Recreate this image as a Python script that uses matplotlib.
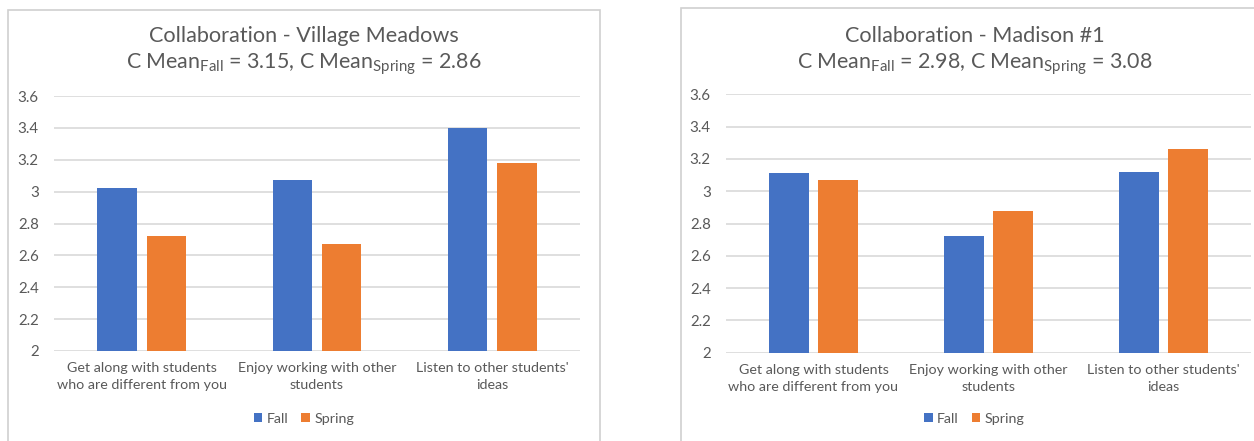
import numpy as np
import matplotlib
matplotlib.use("Agg")
import matplotlib.pyplot as plt
from matplotlib.patches import Rectangle

plt.rcParams['font.family'] = ['Lato', 'DejaVu Sans']
plt.rcParams['mathtext.fontset'] = 'custom'
plt.rcParams['mathtext.rm'] = 'Lato'

categories = ["Get along with students\nwho are different from you",
              "Enjoy working with other\nstudents",
              "Listen to other students'\nideas"]
series = ["Fall", "Spring"]

vm_fall = [3.02, 3.07, 3.40]
vm_spring = [2.72, 2.67, 3.18]
vm_means = [3.15, 2.86]

mad_fall = [3.11, 2.72, 3.12]
mad_spring = [3.07, 2.88, 3.26]
mad_means = [2.98, 3.08]

yticks = [2, 2.2, 2.4, 2.6, 2.8, 3, 3.2, 3.4, 3.6]

BLUE = '#4472C4'
ORANGE = '#ED7D31'
GRAY = '#595959'
GRID = '#D9D9D9'

W, H = 1254, 441


def fx(px):
    return px / W


def fy(py):
    # py measured from the top of the picture
    return 1 - py / H


def panel(fig, rect, box, name, fall, spring, means):
    ax = fig.add_axes(rect)
    x = np.arange(len(categories))
    ax.bar(x - 0.141, fall, 0.225, color=BLUE, label=series[0], zorder=3)
    ax.bar(x + 0.141, spring, 0.225, color=ORANGE, label=series[1], zorder=3)
    ax.set_xlim(-0.5, len(categories) - 0.5)
    ax.set_ylim(2, 3.6)
    ax.set_yticks(yticks)
    ax.set_yticklabels([('%g' % t) for t in yticks])
    ax.set_xticks(x)
    ax.set_xticklabels(categories, linespacing=1.5)
    ax.tick_params(length=0, colors=GRAY)
    ax.tick_params(axis='y', pad=11, labelsize=10.8)
    ax.tick_params(axis='x', pad=8, labelsize=10.3)
    for s in ax.spines.values():
        s.set_visible(False)
    ax.yaxis.grid(True, color=GRID, linewidth=1.2, zorder=0)
    ax.set_axisbelow(True)

    # panel frame
    x0, y0, x1, y1 = box
    fig.patches.append(Rectangle((fx(x0), fy(y1)), fx(x1 - x0), (y1 - y0) / H,
                                 transform=fig.transFigure, fill=False,
                                 edgecolor='#D0D0D0', linewidth=1.2))
    cx = fx((x0 + x1) / 2)
    fig.text(cx, fy(36), "Collaboration - " + name, ha='center', va='center',
             fontsize=15.6, color=GRAY)
    fig.text(cx, fy(64),
             r"C Mean$_\mathregular{Fall}$ = %.2f, C Mean$_\mathregular{Spring}$ = %.2f" % (means[0], means[1]),
             ha='center', va='center', fontsize=15.4, color=GRAY)
    fig.legend(*ax.get_legend_handles_labels(), loc='center',
               bbox_to_anchor=(cx, fy(419)), ncol=2, frameon=False,
               fontsize=10.3, handlelength=0.6, handleheight=0.6,
               handletextpad=0.3, columnspacing=0.9, labelcolor=GRAY)
    return ax


fig = plt.figure(figsize=(W / 100, H / 100), dpi=100)
panel(fig, [fx(54), fy(351), fx(526), 255 / H], (8, 10, 600, 460),
      "Village Meadows", vm_fall, vm_spring, vm_means)
panel(fig, [fx(726), fy(352.7), fx(525), 258.4 / H], (681, 8, 1268, 460),
      "Madison #1", mad_fall, mad_spring, mad_means)

fig.savefig("out.png", dpi=100)
